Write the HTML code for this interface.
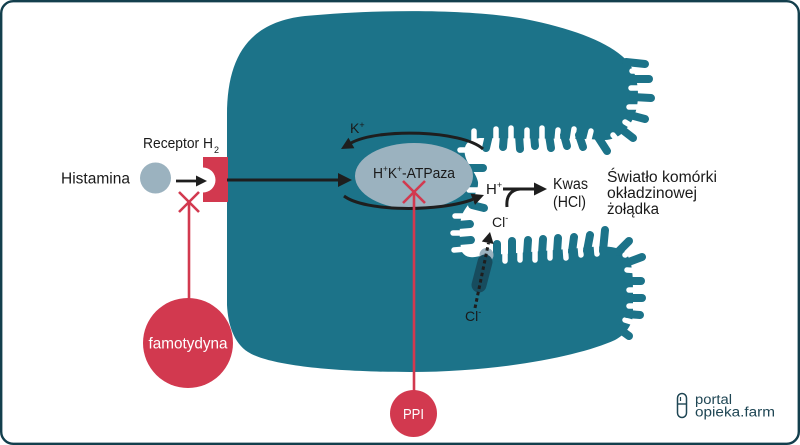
<!DOCTYPE html>
<html>
<head>
<meta charset="utf-8">
<style>
html,body{margin:0;padding:0;background:#fff;}
svg{display:block;}
text{font-family:"Liberation Sans",sans-serif;fill:#1a1a1a;}
</style>
</head>
<body>
<svg width="800" height="445" viewBox="0 0 800 445" xmlns="http://www.w3.org/2000/svg">
  <rect x="1.2" y="1.2" width="797.6" height="442.6" rx="12" ry="12" fill="#fff" stroke="#133f4d" stroke-width="2.4"/>

  <!-- cell body -->
  <path fill="#1c7389" d="M227,305 L227,115 C227,55 250,22 305,16 C380,9 470,9 525,19 C570,28 603,40 622,56 C634,66 638,80 638,95 C638,112 632,125 620,135 C610,142 600,140 590,139 L480,138 C468,139 463,145 465,155 C467,165 476,172 478,182 C479,195 466,205 462,215 C458,228 460,245 462,252 C466,258 472,258 480,256 L580,248 C600,246 615,245 625,252 C632,260 633,272 633,290 L633,315 C632,325 626,334 615,340 C580,356 500,372 410,372 C330,372 268,365 248,352 C234,343 228,325 227,305 Z"/>

  <!-- pockets (white) -->
  <g stroke="#fff" stroke-width="5.5" stroke-linecap="round" fill="none">
    <line x1="474" y1="145" x2="474" y2="131"/>
    <line x1="496" y1="142" x2="496" y2="129"/>
    <line x1="511" y1="142" x2="511" y2="128"/>
    <line x1="527" y1="142" x2="527" y2="130"/>
    <line x1="542" y1="142" x2="542" y2="128"/>
    <line x1="557" y1="142" x2="558" y2="130"/>
    <line x1="572" y1="142" x2="574" y2="129"/>
    <line x1="588" y1="143" x2="591" y2="131"/>
    <line x1="646" y1="71" x2="632" y2="71"/>
    <line x1="648" y1="88" x2="631" y2="88"/>
    <line x1="648" y1="107" x2="629" y2="107"/>
    <line x1="638" y1="130" x2="625" y2="122"/>
    <line x1="622" y1="146" x2="613" y2="135"/>
    <line x1="472" y1="150" x2="460" y2="150"/>
    <line x1="478" y1="190" x2="469" y2="190"/>
    <line x1="466" y1="216" x2="455" y2="216"/>
    <line x1="466" y1="233" x2="453" y2="233"/>
    <line x1="466" y1="249" x2="454" y2="250"/>
    <line x1="505" y1="248" x2="505" y2="261"/>
    <line x1="520" y1="247" x2="520" y2="260"/>
    <line x1="535" y1="246" x2="535" y2="260"/>
    <line x1="550" y1="245" x2="550" y2="258"/>
    <line x1="565" y1="244" x2="566" y2="258"/>
    <line x1="580" y1="243" x2="581" y2="255"/>
    <line x1="596" y1="242" x2="597" y2="254"/>
    <line x1="636" y1="248" x2="625" y2="255"/>
    <line x1="642" y1="271" x2="627" y2="270"/>
    <line x1="643" y1="290" x2="629" y2="290"/>
    <line x1="643" y1="306" x2="629" y2="306"/>
    <line x1="638" y1="324" x2="625" y2="320"/>
  </g>

  <!-- fingers (teal) -->
  <g stroke="#1c7389" stroke-width="8" stroke-linecap="round" fill="none">
    <line x1="489" y1="135" x2="486" y2="148"/>
    <line x1="504" y1="135" x2="503" y2="147"/>
    <line x1="519" y1="135" x2="520" y2="149"/>
    <line x1="534" y1="135" x2="535" y2="146"/>
    <line x1="549" y1="135" x2="551" y2="148"/>
    <line x1="564" y1="135" x2="567" y2="146"/>
    <line x1="579" y1="135" x2="583" y2="147"/>
    <line x1="626" y1="62" x2="645" y2="64"/>
    <line x1="632" y1="79" x2="649" y2="79"/>
    <line x1="633" y1="97" x2="651" y2="98"/>
    <line x1="630" y1="115" x2="645" y2="119"/>
    <line x1="620" y1="128" x2="633" y2="138"/>
    <line x1="598" y1="137" x2="607" y2="151"/>
    <line x1="468" y1="168" x2="483" y2="168"/>
    <line x1="472" y1="205" x2="484" y2="208"/>
    <line x1="458" y1="225" x2="470" y2="224"/>
    <line x1="459" y1="241" x2="471" y2="240"/>
    <line x1="497" y1="258" x2="497" y2="244"/>
    <line x1="512" y1="256" x2="512" y2="241"/>
    <line x1="527" y1="255" x2="528" y2="240"/>
    <line x1="542" y1="254" x2="543" y2="239"/>
    <line x1="557" y1="253" x2="558" y2="238"/>
    <line x1="572" y1="252" x2="574" y2="237"/>
    <line x1="587" y1="251" x2="590" y2="235"/>
    <line x1="603" y1="251" x2="605" y2="230"/>
    <line x1="618" y1="252" x2="629" y2="241"/>
    <line x1="626" y1="263" x2="642" y2="257"/>
    <line x1="628" y1="281" x2="641" y2="281"/>
    <line x1="628" y1="298" x2="642" y2="298"/>
    <line x1="627" y1="314" x2="640" y2="315"/>
    <line x1="618" y1="328" x2="629" y2="336"/>
  </g>

  <!-- ATPase ellipse -->
  <ellipse cx="414" cy="176" rx="59" ry="33" fill="#9bb2bf"/>

  <!-- histamine + receptor -->
  <circle cx="155.5" cy="178" r="15.5" fill="#9bb2bf"/>
  <path fill="#d2394f" d="M203,157 L228,157 L228,202 L203,202 L203,192.5 A12.5,12.5 0 0 0 203,167.5 Z"/>

  <!-- arrows -->
  <g stroke="#1e1e1e" fill="none" stroke-linecap="butt">
    <line x1="176" y1="181" x2="197" y2="181" stroke-width="2.8"/>
    <line x1="227" y1="180" x2="340" y2="180" stroke-width="3"/>
    <path d="M483,149 C462,130 378,128 351,143" stroke-width="3"/>
    <path d="M344,196 C365,212 440,212 473,199.3" stroke-width="3"/>
    <line x1="503" y1="189" x2="536" y2="189" stroke-width="3"/>
    <path d="M507,207 C506,197 510,190 520,189" stroke-width="3"/>
  </g>
  <g fill="#1e1e1e">
    <polygon points="207,181 196,175.5 196,186.5"/>
    <polygon points="352,180 338,173 338,187"/>
    <polygon points="341,149 354.4,148.2 348.4,137.8"/>
    <polygon points="484,195 475,204.9 470.6,193.7"/>
    <polygon points="547,189 534,182.5 534,195.5"/>
  </g>

  <!-- Cl channel -->
  <circle cx="486.5" cy="255" r="7" fill="#9bb2bf"/>
  <line x1="485" y1="262" x2="479" y2="285" stroke="#174c5e" stroke-width="15" stroke-linecap="round"/>
  <line x1="475" y1="308" x2="488.5" y2="243" stroke="#1e1e1e" stroke-width="3" stroke-dasharray="3.5,3"/>
  <polygon points="490,232 493.6,244 481.8,241.5" fill="#1e1e1e"/>

  <!-- inhibitor lines -->
  <g stroke="#d2394f" stroke-width="2.6" stroke-linecap="butt">
    <line x1="189" y1="202" x2="189" y2="300"/>
    <line x1="179" y1="192" x2="199" y2="212"/>
    <line x1="199" y1="192" x2="179" y2="212"/>
    <line x1="414" y1="192" x2="414" y2="392"/>
    <line x1="403" y1="181" x2="425" y2="203"/>
    <line x1="425" y1="181" x2="403" y2="203"/>
  </g>
  <circle cx="188" cy="343" r="45" fill="#d2394f"/>
  <circle cx="413.5" cy="413.5" r="23.5" fill="#d2394f"/>

  <!-- texts -->
  <text x="61" y="183.5" font-size="15.5" textLength="69" lengthAdjust="spacingAndGlyphs">Histamina</text>
  <text x="143" y="148" font-size="15" textLength="70" lengthAdjust="spacingAndGlyphs">Receptor H</text>
  <text x="214" y="153" font-size="9">2</text>
  <text x="350" y="133" font-size="14">K<tspan font-size="9" dy="-5">+</tspan></text>
  <text x="373" y="178" font-size="15" textLength="82" lengthAdjust="spacingAndGlyphs">H<tspan font-size="9" dy="-6">+</tspan><tspan dy="6">K</tspan><tspan font-size="9" dy="-6">+</tspan><tspan dy="6">-ATPaza</tspan></text>
  <text x="486" y="194" font-size="15">H<tspan font-size="9" dy="-6">+</tspan></text>
  <text x="553" y="189" font-size="15.5" textLength="35" lengthAdjust="spacingAndGlyphs">Kwas</text>
  <text x="553" y="207" font-size="15.5" textLength="33" lengthAdjust="spacingAndGlyphs">(HCl)</text>
  <text x="607" y="182" font-size="15.5" textLength="110" lengthAdjust="spacingAndGlyphs">Światło komórki</text>
  <text x="607" y="198" font-size="15.5" textLength="90" lengthAdjust="spacingAndGlyphs">okładzinowej</text>
  <text x="607" y="214" font-size="15.5" textLength="52" lengthAdjust="spacingAndGlyphs">żołądka</text>
  <text x="492" y="227" font-size="14">Cl<tspan font-size="9" dy="-6">-</tspan></text>
  <text x="465" y="321" font-size="14">Cl<tspan font-size="9" dy="-6">-</tspan></text>
  <text x="188" y="348.5" font-size="16" text-anchor="middle" textLength="79" lengthAdjust="spacingAndGlyphs" style="fill:#fff">famotydyna</text>
  <text x="413.5" y="419" font-size="15" text-anchor="middle" textLength="21" lengthAdjust="spacingAndGlyphs" style="fill:#fff">PPI</text>

  <!-- logo -->
  <rect x="677.5" y="393.5" width="9" height="24" rx="4.5" fill="none" stroke="#1f4654" stroke-width="1.5"/>
  <line x1="677.5" y1="404" x2="686.5" y2="404" stroke="#1f4654" stroke-width="1.4"/>
  <line x1="680.5" y1="397" x2="680.5" y2="401" stroke="#1f4654" stroke-width="1.2"/>
  <text x="695" y="404" font-size="13.5" textLength="37" lengthAdjust="spacingAndGlyphs" style="fill:#1f4654">portal</text>
  <text x="695" y="416.5" font-size="13.5" textLength="80" lengthAdjust="spacingAndGlyphs" style="fill:#1f4654">opieka.farm</text>
</svg>
</body>
</html>
